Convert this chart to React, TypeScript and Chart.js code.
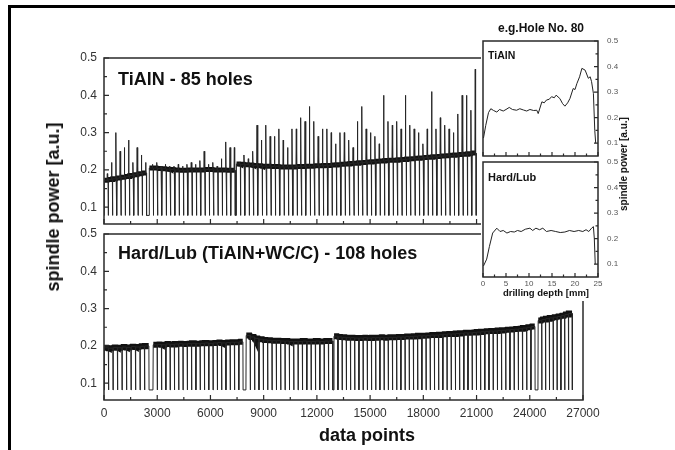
import React, { useEffect, useRef } from "react";
import { Chart, registerables } from "chart.js";
Chart.register(...registerables);

const FONT = '"Liberation Sans", Arial, Helvetica, sans-serif';
Chart.defaults.font.family = FONT;

// ---- axes ----
const mainXTicks = [0, 3000, 6000, 9000, 12000, 15000, 18000, 21000, 24000, 27000];
const mainXMinor = [1500, 4500, 7500, 10500, 13500, 16500, 19500, 22500, 25500];
const mainYTicks = [0.1, 0.2, 0.3, 0.4, 0.5];
const mainYMinor = [0.15, 0.25, 0.35, 0.45];
const insetXTicks = [0, 5, 10, 15, 20, 25];
const insetXMinor = [2.5, 7.5, 12.5, 17.5, 22.5];

// ---- TiAlN, 85 holes (segments of the record) ----
const topSegStart = [0, 2540, 7450];
const topSegEnd = [2400, 7400, 20980];
const topSegHoles = [10, 20, 55];
const topLow = 0.078;
const topPlateau = [
  0.172, 0.174, 0.176, 0.178, 0.18, 0.182, 0.185, 0.187, 0.19, 0.192,
  0.205, 0.205, 0.204, 0.203, 0.202, 0.201, 0.2, 0.199, 0.199, 0.2,
  0.2, 0.2, 0.2, 0.201, 0.201, 0.2, 0.2, 0.2, 0.199, 0.199,
  0.216, 0.215, 0.214, 0.213, 0.212, 0.211, 0.21, 0.21, 0.209, 0.209, 0.208, 0.208,
  0.208, 0.208, 0.209, 0.209, 0.21, 0.21, 0.211, 0.211, 0.212, 0.212, 0.213, 0.214,
  0.215, 0.216, 0.217, 0.218, 0.219, 0.22, 0.221, 0.222, 0.223, 0.224, 0.225, 0.226, 0.226, 0.227, 0.228, 0.229,
  0.23, 0.231, 0.232, 0.233, 0.234, 0.235, 0.236, 0.237, 0.238, 0.239, 0.24, 0.241, 0.242, 0.243, 0.245,
];
const topPeak = [
  0.19, 0.22, 0.30, 0.25, 0.26, 0.28, 0.22, 0.26, 0.24, 0.22,
  0.215, 0.22, 0.21, 0.215, 0.21, 0.21, 0.215, 0.21, 0.215, 0.22,
  0.215, 0.225, 0.25, 0.215, 0.22, 0.21, 0.23, 0.275, 0.26, 0.26,
  0.22, 0.24, 0.23, 0.25, 0.32, 0.28, 0.32, 0.29, 0.29, 0.31, 0.28, 0.26,
  0.31, 0.31, 0.34, 0.33, 0.37, 0.33, 0.29, 0.31, 0.31, 0.30, 0.27, 0.30,
  0.30, 0.28, 0.26, 0.33, 0.37, 0.31, 0.30, 0.29, 0.27, 0.40, 0.33, 0.32, 0.33, 0.31, 0.40, 0.32,
  0.31, 0.30, 0.27, 0.31, 0.41, 0.31, 0.34, 0.32, 0.31, 0.30, 0.35, 0.40, 0.40, 0.36, 0.47,
];

// ---- Hard/Lub, 108 holes ----
const botSegStart = [0, 2760, 8000, 12950, 24460];
const botSegEnd = [2540, 7840, 12900, 24300, 26400];
const botSegHoles = [10, 21, 20, 48, 9];
const botLow = 0.082;
const botPlateau = [
  0.195, 0.194, 0.196, 0.195, 0.197, 0.196, 0.198, 0.197, 0.199, 0.2,
  0.203, 0.204, 0.203, 0.205, 0.204, 0.205, 0.206, 0.205, 0.206, 0.207, 0.206,
  0.207, 0.208, 0.207, 0.208, 0.209, 0.208, 0.209, 0.21, 0.21, 0.211,
  0.228, 0.224, 0.22, 0.218, 0.216, 0.215, 0.214, 0.214, 0.213, 0.213,
  0.212, 0.212, 0.212, 0.213, 0.212, 0.212, 0.213, 0.212, 0.213, 0.213,
  0.226, 0.224, 0.223, 0.222, 0.222, 0.221, 0.221, 0.222, 0.221, 0.222,
  0.222, 0.223, 0.222, 0.223, 0.223, 0.224, 0.224, 0.225, 0.225, 0.226,
  0.227, 0.227, 0.228, 0.229, 0.229, 0.23, 0.231, 0.232, 0.232, 0.233,
  0.234, 0.235, 0.235, 0.236, 0.237, 0.238, 0.239, 0.24, 0.24, 0.241,
  0.242, 0.243, 0.244, 0.245, 0.246, 0.248, 0.25, 0.252,
  0.268, 0.271, 0.273, 0.275, 0.277, 0.279, 0.281, 0.284, 0.287,
];

// ---- Inset: hole No. 80 ----
const tialnDepth = [0.1, 0.6, 1.2, 1.7, 2.3, 3.0, 3.6, 4.4, 5.0, 5.7, 6.4, 7.3, 8.0, 8.8, 9.5, 10.2, 11.0, 11.7, 12.0, 12.8, 13.3, 13.8, 14.4, 14.9, 15.5, 15.9, 16.7, 17.3, 17.8, 18.4, 18.9, 19.6, 20.0, 20.4, 21.0, 21.5, 22.2, 22.9, 23.3, 23.6, 24.0, 24.3, 24.5];
const tialnPower = [0.12, 0.17, 0.22, 0.235, 0.228, 0.222, 0.232, 0.226, 0.232, 0.24, 0.232, 0.229, 0.235, 0.23, 0.226, 0.232, 0.228, 0.229, 0.216, 0.262, 0.258, 0.269, 0.272, 0.282, 0.278, 0.288, 0.275, 0.255, 0.245, 0.258, 0.275, 0.314, 0.31, 0.333, 0.36, 0.393, 0.386, 0.354, 0.36, 0.341, 0.295, 0.15, 0.1];
const hardDepth = [0.1, 0.8, 1.4, 2.1, 3.0, 3.7, 4.4, 5.2, 6.0, 6.8, 7.5, 8.3, 9.2, 10.2, 10.8, 11.5, 12.3, 13.0, 13.8, 14.8, 15.8, 16.8, 17.8, 18.8, 19.8, 20.8, 21.7, 22.4, 23.0, 23.6, 24.0, 24.2, 24.4];
const hardPower = [0.093, 0.12, 0.17, 0.222, 0.241, 0.228, 0.232, 0.222, 0.228, 0.226, 0.232, 0.228, 0.237, 0.241, 0.232, 0.241, 0.235, 0.241, 0.228, 0.232, 0.228, 0.224, 0.226, 0.232, 0.228, 0.232, 0.228, 0.235, 0.228, 0.241, 0.247, 0.2, 0.1];

type Pt = { x: number; y: number | null };

function buildSeries(segStart: number[], segEnd: number[], segHoles: number[], plateau: number[], peak: number[] | null, low: number) {
  const line: Pt[] = [];
  const band: Pt[] = [];
  let h = 0;
  for (let s = 0; s < segStart.length; s++) {
    const w = (segEnd[s] - segStart[s]) / segHoles[s];
    for (let k = 0; k < segHoles[s]; k++, h++) {
      const x0 = segStart[s] + k * w;
      const p = plateau[h];
      line.push({ x: x0, y: low });
      line.push({ x: x0 + 0.06 * w, y: p });
      const pk = peak ? peak[h] : null;
      if (pk != null && pk > p) {
        line.push({ x: x0 + 0.7 * w, y: p });
        line.push({ x: x0 + 0.78 * w, y: pk });
        line.push({ x: x0 + 0.86 * w, y: p });
      }
      line.push({ x: x0 + 0.96 * w, y: p });
      band.push({ x: x0 + 0.08 * w, y: p }, { x: x0 + 0.92 * w, y: p });
    }
    band.push({ x: segEnd[s], y: null });
    line.push({ x: segEnd[s], y: low });
  }
  return { line, band };
}

type FrameCfg = {
  xMajor: number[]; xMinor: number[]; yMajor: number[]; yMinor: number[];
  ySide: "left" | "right"; majorLen: number; minorLen: number; lw: number;
  white?: [number, number, number, number];
};

function makeFrame(cfg: FrameCfg) {
  return {
    id: "frame",
    beforeDraw(chart: any) {
      if (!cfg.white) return;
      const a = chart.chartArea;
      const ctx = chart.ctx;
      const [l, t, r, b] = cfg.white;
      ctx.save();
      ctx.fillStyle = "#ffffff";
      ctx.fillRect(a.left - l, a.top - t, a.right - a.left + l + r, a.bottom - a.top + t + b);
      ctx.restore();
    },
    afterDatasetsDraw(chart: any) {
      const { ctx, chartArea: a, scales } = chart;
      const x = scales.x, y = scales.y;
      ctx.save();
      ctx.strokeStyle = "#2a2a2a";
      ctx.lineWidth = cfg.lw;
      ctx.strokeRect(a.left, a.top, a.right - a.left, a.bottom - a.top);
      ctx.lineWidth = 1.2;
      ctx.beginPath();
      const xt = (vals: number[], len: number) => {
        for (const v of vals) {
          const px = x.getPixelForValue(v);
          ctx.moveTo(px, a.bottom);
          ctx.lineTo(px, a.bottom - len);
        }
      };
      const yt = (vals: number[], len: number) => {
        for (const v of vals) {
          const py = y.getPixelForValue(v);
          if (cfg.ySide === "left") {
            ctx.moveTo(a.left, py);
            ctx.lineTo(a.left + len, py);
          } else {
            ctx.moveTo(a.right, py);
            ctx.lineTo(a.right - len, py);
          }
        }
      };
      xt(cfg.xMajor, cfg.majorLen);
      xt(cfg.xMinor, cfg.minorLen);
      yt(cfg.yMajor, cfg.majorLen);
      yt(cfg.yMinor, cfg.minorLen);
      ctx.stroke();
      ctx.restore();
    },
  };
}

const noGrid = { display: false, drawTicks: false };
const noBorder = { display: false };

function mainConfig(kind: "top" | "bottom") {
  const isTop = kind === "top";
  const s = isTop
    ? buildSeries(topSegStart, topSegEnd, topSegHoles, topPlateau, topPeak, topLow)
    : buildSeries(botSegStart, botSegEnd, botSegHoles, botPlateau, null, botLow);
  return {
    type: "line",
    data: {
      datasets: [
        { data: s.line, borderColor: "#262626", borderWidth: 1, pointRadius: 0, tension: 0, spanGaps: false },
        { data: s.band, borderColor: "#111111", borderWidth: isTop ? 5 : 6, pointRadius: 0, tension: 0, spanGaps: false, borderCapStyle: "butt" },
      ],
    },
    options: {
      responsive: false,
      animation: false,
      events: [],
      normalized: true,
      layout: { autoPadding: false, padding: isTop ? { left: 80, right: 92, top: 58, bottom: 226 } : { left: 80, right: 92, top: 234, bottom: 20 } },
      plugins: { legend: { display: false }, tooltip: { enabled: false } },
      scales: {
        x: {
          type: "linear", min: 0, max: 27000, display: !isTop,
          grid: noGrid, border: noBorder,
          ticks: { font: { size: 12 }, color: "#333", padding: 6, maxRotation: 0, autoSkip: false, callback: (v: any) => String(v) },
          afterBuildTicks: (sc: any) => { sc.ticks = mainXTicks.map((v) => ({ value: v })); },
          afterFit: (sc: any) => { if (!isTop) sc.height = 30; },
        },
        y: {
          type: "linear", min: 0.055, max: 0.5,
          grid: noGrid, border: noBorder,
          ticks: { font: { size: 12 }, color: "#333", padding: 7, callback: (v: any) => Number(v).toFixed(1) },
          afterBuildTicks: (sc: any) => { sc.ticks = mainYTicks.map((v) => ({ value: v })); },
          afterFit: (sc: any) => { sc.width = 24; },
        },
      },
    },
    plugins: [makeFrame({ xMajor: mainXTicks, xMinor: mainXMinor, yMajor: mainYTicks, yMinor: mainYMinor, ySide: "left", majorLen: 5, minorLen: 3, lw: 1.5 })],
  };
}

function insetConfig(kind: "tialn" | "hard") {
  const isT = kind === "tialn";
  const depth = isT ? tialnDepth : hardDepth;
  const power = isT ? tialnPower : hardPower;
  return {
    type: "line",
    data: {
      datasets: [
        { data: depth.map((d, i) => ({ x: d, y: power[i] })), borderColor: "#222", borderWidth: 1, pointRadius: 0, tension: 0 },
      ],
    },
    options: {
      responsive: false,
      animation: false,
      events: [],
      layout: { autoPadding: false, padding: isT ? { left: 483, right: 47, top: 41, bottom: 294 } : { left: 483, right: 47, top: 162, bottom: 153 } },
      plugins: { legend: { display: false }, tooltip: { enabled: false } },
      scales: {
        x: {
          type: "linear", min: 0, max: 25, display: !isT,
          grid: noGrid, border: noBorder,
          ticks: { font: { size: 8 }, color: "#555", padding: 2, maxRotation: 0, autoSkip: false, callback: (v: any) => String(v) },
          afterBuildTicks: (sc: any) => { sc.ticks = insetXTicks.map((v) => ({ value: v })); },
          afterFit: (sc: any) => { if (!isT) sc.height = 20; },
        },
        y: {
          type: "linear", position: "right", min: 0.05, max: 0.5,
          grid: noGrid, border: noBorder,
          ticks: { font: { size: 8 }, color: "#555", padding: 9, callback: (v: any) => Number(v).toFixed(1) },
          afterBuildTicks: (sc: any) => { sc.ticks = mainYTicks.map((v) => ({ value: v })); },
          afterFit: (sc: any) => { sc.width = 30; },
        },
      },
    },
    plugins: [makeFrame({
      xMajor: insetXTicks, xMinor: insetXMinor, yMajor: mainYTicks, yMinor: mainYMinor, ySide: "right", majorLen: 4, minorLen: 2.5, lw: 1.5,
      white: isT ? [2, 1, 3, 6] : [2, 1, 3, 24],
    })],
  };
}

function Layer({ make }: { make: () => any }) {
  const ref = useRef<HTMLCanvasElement>(null);
  useEffect(() => {
    const chart = new Chart(ref.current as HTMLCanvasElement, make());
    return () => chart.destroy();
  }, []);
  return <canvas ref={ref} width={675} height={450} style={{ position: "absolute", left: 0, top: 0, width: 675, height: 450 }} />;
}

const txt = (size: number): React.CSSProperties => ({
  position: "absolute", fontFamily: FONT, fontWeight: 700, fontSize: size, lineHeight: `${size}px`, whiteSpace: "nowrap", color: "#111",
});

export default function App() {
  return (
    <div style={{ position: "absolute", left: 0, top: 0, width: 675, height: 450, background: "#fff", overflow: "hidden" }}>
      <div style={{ position: "absolute", left: 8, top: 5, width: 700, height: 500, borderLeft: "3px solid #000", borderTop: "3px solid #000" }} />
      <Layer make={() => mainConfig("top")} />
      <Layer make={() => mainConfig("bottom")} />
      <Layer make={() => insetConfig("tialn")} />
      <Layer make={() => insetConfig("hard")} />
      <div style={{ ...txt(18), left: 53, top: 207, transform: "translate(-50%, -50%) rotate(-90deg)" }}>spindle power [a.u.]</div>
      <div style={{ ...txt(18), left: 367, top: 435, transform: "translate(-50%, -50%)" }}>data points</div>
      <div style={{ ...txt(18), left: 118, top: 70 }}>TiAlN - 85 holes</div>
      <div style={{ ...txt(18), left: 118, top: 244 }}>Hard/Lub (TiAlN+WC/C) - 108 holes</div>
      <div style={{ ...txt(12), left: 541, top: 22, transform: "translateX(-50%)" }}>e.g.Hole No. 80</div>
      <div style={{ ...txt(10.5), left: 488, top: 50 }}>TiAlN</div>
      <div style={{ ...txt(11), left: 488, top: 172 }}>Hard/Lub</div>
      <div style={{ ...txt(10), left: 624, top: 164, transform: "translate(-50%, -50%) rotate(-90deg)" }}>spindle power [a.u.]</div>
      <div style={{ ...txt(9.5), left: 546, top: 293, transform: "translate(-50%, -50%)" }}>drilling depth [mm]</div>
    </div>
  );
}
